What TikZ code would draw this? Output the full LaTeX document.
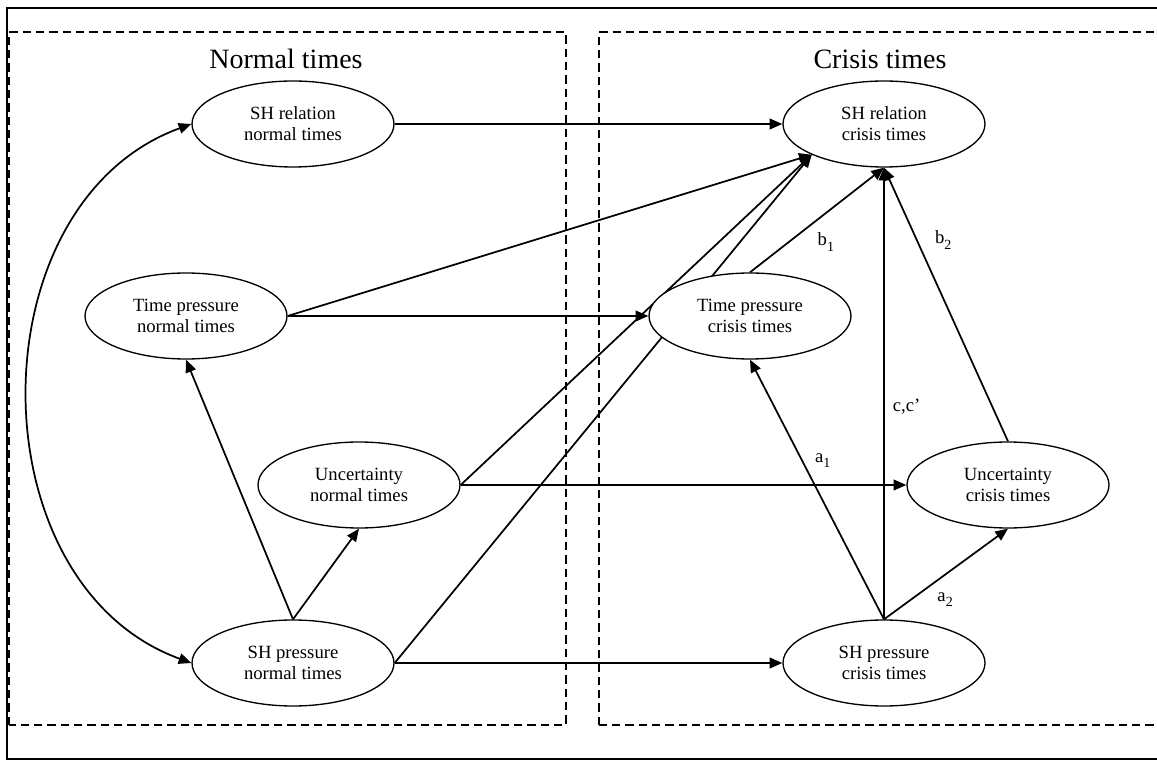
\documentclass[tikz,border=0pt]{standalone}
\usepackage{fontspec}
\setmainfont{Liberation Serif}
\usetikzlibrary{arrows.meta,shapes.geometric,backgrounds}
\newcommand{\lowidx}[1]{\raisebox{-4pt}{\fontsize{10.5}{11}\selectfont #1}}
\tikzset{
  var/.style={ellipse, draw, fill=white, line width=1pt, minimum width=151.5pt,
    minimum height=64.5pt, align=center, font=\fontsize{14}{15.75}\selectfont},
  link/.style={line width=1.3pt, ->},
  frame/.style={line width=0.9pt, dash pattern=on 6.3pt off 3.7pt},
  lab/.style={font=\fontsize{14}{16}\selectfont, inner sep=1pt},
  head/.style={font=\fontsize{21}{24}\selectfont}
}
\begin{document}
\begin{tikzpicture}[x=0.75pt, y=0.75pt, >={Triangle[length=9.5pt,width=8pt]}]
\useasboundingbox (0,0) rectangle (1157,761);
\clip (0,0) rectangle (1157,761);
\node[var] (N_rel) at (293,637) {SH relation\\normal times};
\node[var] (C_rel) at (884,637) {SH relation\\crisis times};
\node[var] (N_tp) at (186,445) {Time pressure\\normal times};
\node[var] (C_tp) at (750,445) {Time pressure\\crisis times};
\node[var] (N_un) at (359,276) {Uncertainty\\normal times};
\node[var] (C_un) at (1008,276) {Uncertainty\\crisis times};
\node[var] (N_sh) at (293,98) {SH pressure\\normal times};
\node[var] (C_sh) at (884,98) {SH pressure\\crisis times};
\node[head] (T_N) at (286,702) {Normal times};
\node[head] (T_C) at (880,702) {Crisis times};
\begin{scope}[on background layer]
\draw[line width=0.8pt] (7,2) rectangle (1170,753);
\draw[frame] (9,36) rectangle (566,729);
\draw[frame] (599,36) rectangle (1170,729);
\draw[link] (N_rel) -- (C_rel);
\draw[link] (N_tp) -- (C_tp);
\draw[link] (N_un) -- (C_un);
\draw[link] (N_sh) -- (C_sh);
\draw[link] (N_tp.east) -- (C_rel.203);
\draw[link] (N_un.east) -- (C_rel.203);
\draw[link] (N_sh.east) -- (C_rel.203);
\draw[link] (N_sh.north) -- (N_tp.south);
\draw[link] (N_sh.north) -- (N_un.south);
\draw[link, <->] (N_rel.west) to[out=200, in=160, looseness=1.1] (N_sh.west);
\draw[link] (C_sh.north) -- (C_tp.south) node[lab, pos=0.61, right=8pt] {a\lowidx{1}};
\draw[link] (C_sh.north) -- (C_un.south) node[lab, pos=0.22, right=18pt] {a\lowidx{2}};
\draw[link] (C_sh.north) -- (C_rel.south) node[lab, pos=0.47, right=5pt] {c,c’};
\draw[link] (C_tp.north) -- (C_rel.south) node[lab, pos=0.29, right=20pt] {b\lowidx{1}};
\draw[link] (C_un.north) -- (C_rel.south) node[lab, pos=0.735, right=12pt] {b\lowidx{2}};
\end{scope}
\end{tikzpicture}
\end{document}
